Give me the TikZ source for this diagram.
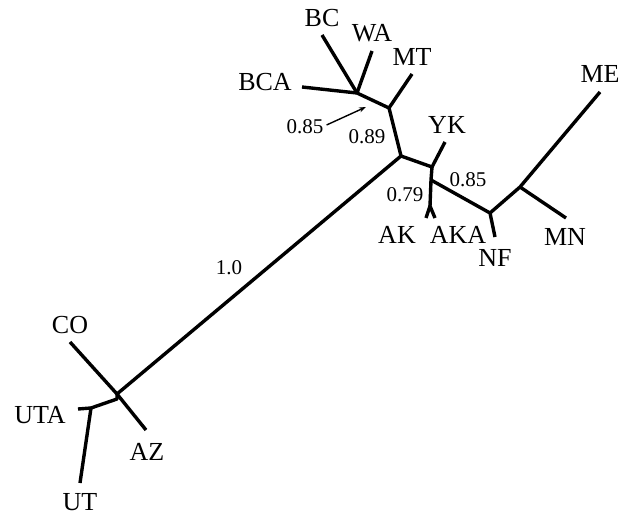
\documentclass[tikz,border=0pt]{standalone}
\usepackage{fontspec}
\setmainfont{Liberation Serif}
\usetikzlibrary{arrows.meta}
\begin{document}
\begin{tikzpicture}[x=1bp,y=-1bp,
  branch/.style={line width=3.4bp,line join=round},
  taxon/.style={inner sep=0pt,font=\fontsize{26bp}{28bp}\selectfont},
  support/.style={inner sep=0pt,font=\fontsize{21bp}{23bp}\selectfont},
  pointer/.style={line width=1.4bp,-{Stealth[length=7bp,width=5bp]}}]
\useasboundingbox (0,0) rectangle (631,516);
% internal nodes of the tree
\coordinate (j1) at (357,93);
\coordinate (j2) at (389,108);
\coordinate (j3) at (401,156);
\coordinate (j4) at (432,167);
\coordinate (j5) at (431,180);
\coordinate (s)  at (430,206);
\coordinate (j6) at (490,213);
\coordinate (j7) at (520,187);
\coordinate (j8) at (117,394);
\coordinate (j9) at (117,399);
\coordinate (u)  at (91,408);
% tips
\coordinate (tBC)  at (322,35);
\coordinate (tWA)  at (372,51);
\coordinate (tBCA) at (302,87);
\coordinate (tMT)  at (412,74);
\coordinate (tYK)  at (445,142);
\coordinate (tAK)  at (426,218);
\coordinate (tAKA) at (435,218);
\coordinate (tNF)  at (495,237);
\coordinate (tME)  at (600,92);
\coordinate (tMN)  at (566,218);
\coordinate (tCO)  at (70,342);
\coordinate (tAZ)  at (146,430);
\coordinate (tUTA) at (78,409);
\coordinate (tUT)  at (80,483);
% branches
\draw[branch] (tBC) -- (j1);
\draw[branch] (tWA) -- (j1);
\draw[branch] (tBCA) -- (j1) -- (j2) -- (j3);
\draw[branch] (tMT) -- (j2);
\draw[branch] (j3) -- (j4) -- (tYK);
\draw[branch] (j4) -- (j5) -- (s);
\draw[branch] (tAK) -- (s) -- (tAKA);
\draw[branch] (j5) -- (j6) -- (tNF);
\draw[branch] (j6) -- (j7) -- (tME);
\draw[branch] (j7) -- (tMN);
\draw[branch] (j3) -- (j8);
\draw[branch] (tCO) -- (j8) -- (tAZ);
\draw[branch] (j8) -- (j9) -- (u);
\draw[branch] (tUTA) -- (u);
\draw[branch] (u) -- (tUT);
% taxon labels
\node[taxon] (BC)  at (322,18)  {BC};
\node[taxon] (WA)  at (372,33)  {WA};
\node[taxon] (MT)  at (412,57)  {MT};
\node[taxon] (BCA) at (265,82)  {BCA};
\node[taxon] (YK)  at (447,125) {YK};
\node[taxon] (AK)  at (397,235) {AK};
\node[taxon] (AKA) at (458,235) {AKA};
\node[taxon] (NF)  at (495,258) {NF};
\node[taxon] (MN)  at (565,237) {MN};
\node[taxon] (ME)  at (600,74)  {ME};
\node[taxon] (CO)  at (70,325)  {CO};
\node[taxon] (UTA) at (40,415)  {UTA};
\node[taxon] (AZ)  at (147,452) {AZ};
\node[taxon] (UT)  at (80,502)  {UT};
% support values
\node[support] (s1) at (305,127) {0.85};
\node[support] (s2) at (367,137) {0.89};
\node[support] (s3) at (468,180) {0.85};
\node[support] (s4) at (405,195) {0.79};
\node[support] (s5) at (229,268) {1.0};
\coordinate (p1) at (366,107);
\draw[pointer] (s1.east) ++(3,-2) coordinate (p0) (p0) -- (p1);
\end{tikzpicture}
\end{document}
